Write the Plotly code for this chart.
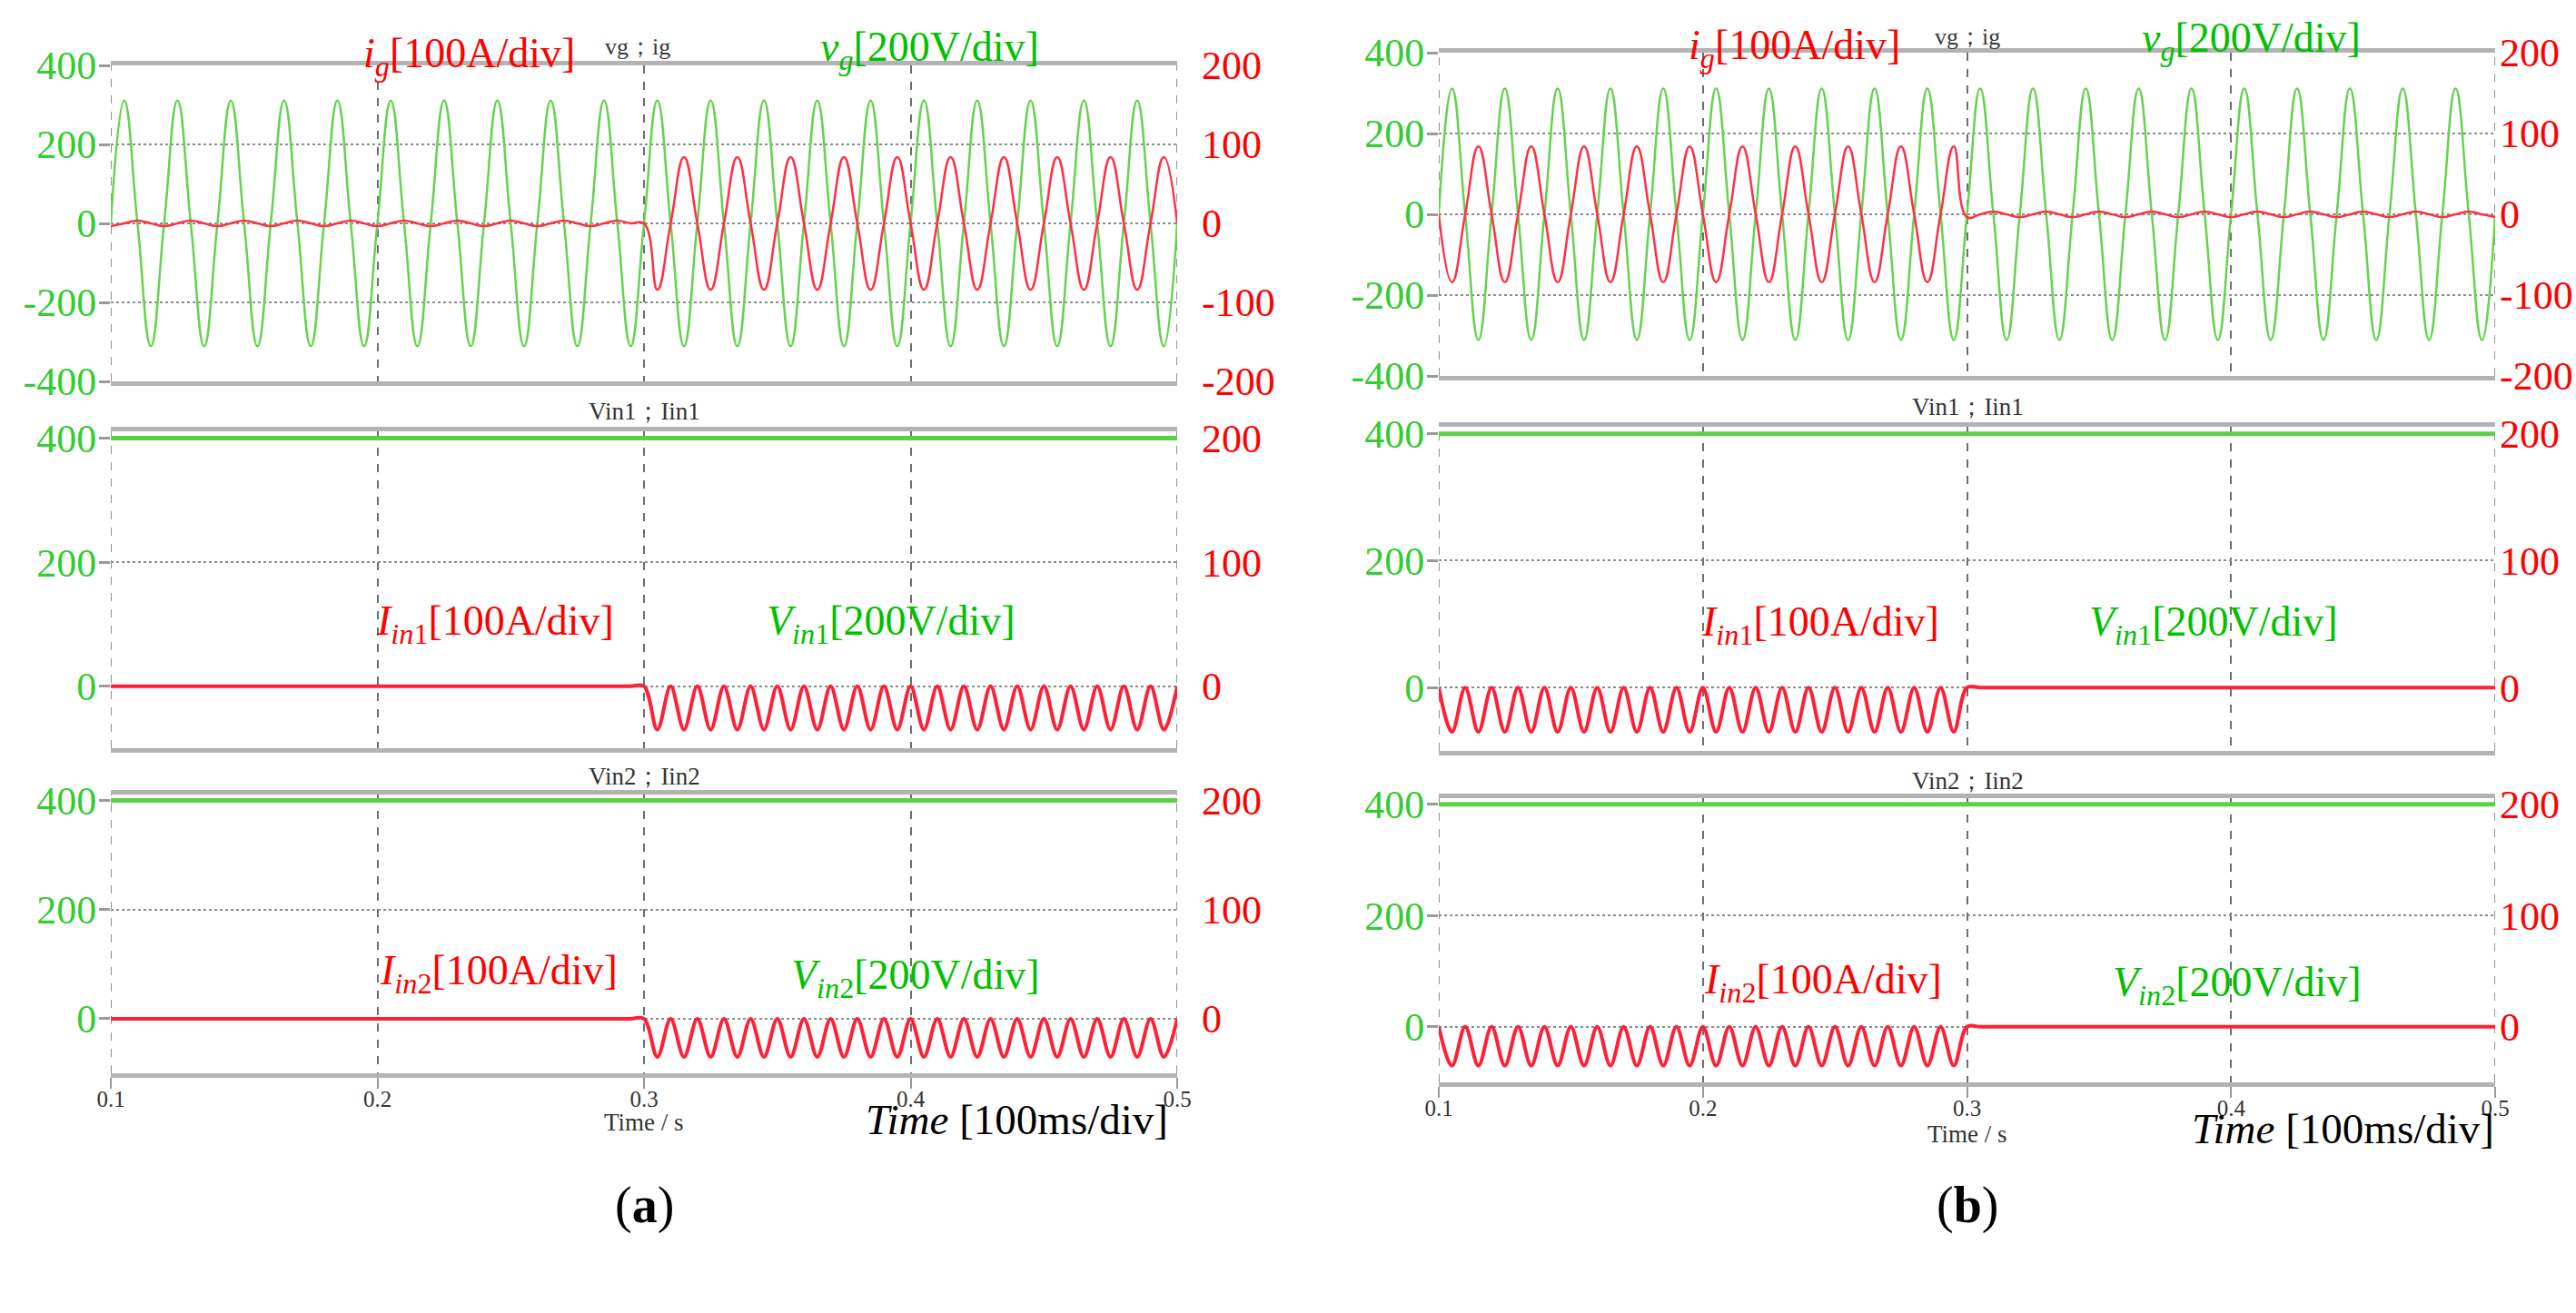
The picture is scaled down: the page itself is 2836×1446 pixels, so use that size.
import plotly.graph_objects as go

# scope time base: samples every 5 ms from 0.1 s
t_start = 0.1
t_step = 0.005

# one 20 ms grid period, read at 5 ms steps
vg_period = [0, 311, 0, -311]          # grid voltage [V]
ig_ripple_period = [-3.5, 0, 3.5, 0]   # grid current, converter idle [A]
ig_full_period = [0, -84, 0, 84]       # grid current, converter running [A]
# input current, read at 5 ms steps (100 Hz ripple)
iin_off_period = [0, 0]
iin_on_period = [0, -35]
vin_dc = [400, 400]                    # input voltage [V], flat over 0.1..0.5 s

vg = vg_period * 20 + [0]
ig_a = ig_ripple_period * 10 + ig_full_period * 10 + [0]
ig_b = ig_full_period * 10 + ig_ripple_period * 10 + [-3.5]
iin_a = iin_off_period * 20 + iin_on_period * 20 + [0]
iin_b = iin_on_period * 20 + iin_off_period * 20 + [0]

x_ticks = [0.1, 0.2, 0.3, 0.4, 0.5]
x_labels = ["0.1", "0.2", "0.3", "0.4", "0.5"]
grid_v_ticks = [-400, -200, 0, 200, 400]
grid_v_labels = ["-400", "-200", "0", "200", "400"]
grid_i_ticks = [-200, -100, 0, 100, 200]
grid_i_labels = ["-200", "-100", "0", "100", "200"]
dc_v_ticks = [0, 200, 400]
dc_v_labels = ["0", "200", "400"]
dc_i_ticks = [0, 100, 200]
dc_i_labels = ["0", "100", "200"]

W, H = 2836, 1446
SERIF = "Liberation Serif, Times New Roman, serif"
GREEN_LINE = "#66d24f"
RED_LINE = "#ff3045"
GREEN_TXT = "#00c000"
GREEN_TICK = "#33cc33"
RED_TXT = "#ff0000"
GRID_COL = "#6e6e6e"


def px_x(x):
    return x / W


def px_y(y):
    return 1 - y / H


# (x-domain px, y-domain px top/bottom, kind, green, red, bottom row?, right label standoff)
panels = [
    ((122, 1296), (72, 420), "grid", vg, ig_a, False, 26),
    ((122, 1296), (475, 824), "dc", vin_dc, iin_a, False, 26),
    ((122, 1296), (875, 1182), "dc", vin_dc, iin_a, True, 26),
    ((1584, 2747), (58, 414), "grid", vg, ig_b, False, 4),
    ((1584, 2747), (470, 827), "dc", vin_dc, iin_b, False, 4),
    ((1584, 2747), (879, 1192), "dc", vin_dc, iin_b, True, 4),
]

fig = go.Figure()
layout = {}
shapes = []

for i, (xd, yd, kind, green, red, bottom, rstand) in enumerate(panels):
    xn = "x" if i == 0 else f"x{i + 1}"
    yl = 2 * i + 1
    yr = 2 * i + 2
    yln = "y" if yl == 1 else f"y{yl}"
    yrn = f"y{yr}"

    if kind == "grid":
        fig.add_trace(go.Scatter(y=green, x0=t_start, dx=t_step, xaxis=xn, yaxis=yln,
                                 mode="lines", line=dict(color=GREEN_LINE, width=2.5,
                                                         shape="spline", smoothing=1.3)))
        fig.add_trace(go.Scatter(y=red, x0=t_start, dx=t_step, xaxis=xn, yaxis=yrn,
                                 mode="lines", line=dict(color=RED_LINE, width=2.5,
                                                         shape="spline", smoothing=1.3)))
        lrange, rrange = [-400, 400], [-200, 200]
        lt, ltt, rt, rtt = grid_v_ticks, grid_v_labels, grid_i_ticks, grid_i_labels
    else:
        fig.add_trace(go.Scatter(y=green, x0=t_start, dx=0.4, xaxis=xn, yaxis=yln,
                                 mode="lines", line=dict(color="#5cd045", width=5)))
        fig.add_trace(go.Scatter(y=red, x0=t_start, dx=t_step, xaxis=xn, yaxis=yrn,
                                 mode="lines", line=dict(color="#ff1f36", width=4,
                                                         shape="spline", smoothing=1.0)))
        lrange, rrange = [-100, 411], [-50, 205.5]
        lt, ltt, rt, rtt = dc_v_ticks, dc_v_labels, dc_i_ticks, dc_i_labels

    xkey = "xaxis" if i == 0 else f"xaxis{i + 1}"
    layout[xkey] = dict(
        domain=[px_x(xd[0]), px_x(xd[1])], anchor=yln, range=[0.1, 0.5],
        tickvals=x_ticks, ticktext=x_labels, showticklabels=bottom,
        ticks="outside" if bottom else "", ticklen=12, tickwidth=2, tickcolor="#999999",
        ticklabelstandoff=-10,
        tickfont=dict(family=SERIF, size=25, color="#333333"),
        showgrid=True, griddash="dash", gridcolor=GRID_COL, gridwidth=1.5,
        showline=True, mirror=True, linecolor="#b3b3b3", linewidth=5,
        zeroline=False, automargin=False,
    )
    lkey = "yaxis" if yl == 1 else f"yaxis{yl}"
    layout[lkey] = dict(
        domain=[px_y(yd[1]), px_y(yd[0])], anchor=xn, range=lrange,
        tickvals=lt, ticktext=ltt, ticks="outside", ticklen=12, tickwidth=3,
        ticklabelstandoff=-6,
        tickcolor="#9a9a9a", tickfont=dict(family=SERIF, size=44, color=GREEN_TICK),
        showgrid=True, griddash="dot", gridcolor="#8c8c8c", gridwidth=2,
        showline=False, zeroline=False, automargin=False,
    )
    layout[f"yaxis{yr}"] = dict(
        overlaying=yln, anchor=xn, side="right", range=rrange,
        tickvals=rt, ticktext=rtt, ticks="", ticklabelstandoff=rstand,
        tickfont=dict(family=SERIF, size=44, color=RED_TXT),
        showgrid=False, showline=False, zeroline=False, automargin=False,
    )
    # dashed grid lines on the left and right edges of each scope window
    for xe in (x_ticks[0], x_ticks[-1]):
        shapes.append(dict(type="line", xref=xn, yref=f"{yln} domain", x0=xe, x1=xe,
                           y0=0, y1=1, line=dict(color=GRID_COL, width=1.5, dash="dash"),
                           layer="below"))

# text labels: (x px, y px, text, size, color, xanchor)
labels = [
    (398, 62, "<i>i</i><sub><i>g</i></sub>[100A/div]", 46, RED_TXT, "left"),
    (901, 55, "<i>v</i><sub><i>g</i></sub>[200V/div]", 46, GREEN_TXT, "left"),
    (702, 52, "vg；ig", 26, "#3a3a3a", "center"),
    (709, 453, "Vin1；Iin1", 27, "#333333", "center"),
    (412, 687, "<i>I</i><sub><i>in</i>1</sub>[100A/div]", 46, RED_TXT, "left"),
    (842, 687, "<i>V</i><sub><i>in</i>1</sub>[200V/div]", 46, GREEN_TXT, "left"),
    (709, 855, "Vin2；Iin2", 27, "#333333", "center"),
    (416, 1072, "<i>I</i><sub><i>in</i>2</sub>[100A/div]", 46, RED_TXT, "left"),
    (869, 1077, "<i>V</i><sub><i>in</i>2</sub>[200V/div]", 46, GREEN_TXT, "left"),
    (709, 1236, "Time / s", 27, "#333333", "center"),
    (951, 1233, "<i>Time</i> [100ms/div]", 47, "#000000", "left"),
    (709, 1327, "(<b>a</b>)", 56, "#000000", "center"),
    (1857, 53, "<i>i</i><sub><i>g</i></sub>[100A/div]", 46, RED_TXT, "left"),
    (2356, 45, "<i>v</i><sub><i>g</i></sub>[200V/div]", 46, GREEN_TXT, "left"),
    (2166, 40, "vg；ig", 26, "#3a3a3a", "center"),
    (2166, 448, "Vin1；Iin1", 27, "#333333", "center"),
    (1871, 688, "<i>I</i><sub><i>in</i>1</sub>[100A/div]", 46, RED_TXT, "left"),
    (2298, 688, "<i>V</i><sub><i>in</i>1</sub>[200V/div]", 46, GREEN_TXT, "left"),
    (2166, 860, "Vin2；Iin2", 27, "#333333", "center"),
    (1874, 1082, "<i>I</i><sub><i>in</i>2</sub>[100A/div]", 46, RED_TXT, "left"),
    (2324, 1085, "<i>V</i><sub><i>in</i>2</sub>[200V/div]", 46, GREEN_TXT, "left"),
    (2166, 1249, "Time / s", 27, "#333333", "center"),
    (2411, 1243, "<i>Time</i> [100ms/div]", 47, "#000000", "left"),
    (2166, 1327, "(<b>b</b>)", 56, "#000000", "center"),
]

annotations = [
    dict(x=px_x(x), y=px_y(y), xref="paper", yref="paper", text=txt, showarrow=False,
         xanchor=xa, yanchor="middle", font=dict(family=SERIF, size=sz, color=col))
    for x, y, txt, sz, col, xa in labels
]

fig.update_layout(
    width=W, height=H, margin=dict(l=0, r=0, t=0, b=0),
    paper_bgcolor="white", plot_bgcolor="white", showlegend=False,
    annotations=annotations, shapes=shapes, **layout,
)

fig.write_html("out.html", config={"displayModeBar": False},
               post_script="document.body.style.margin='0';")
